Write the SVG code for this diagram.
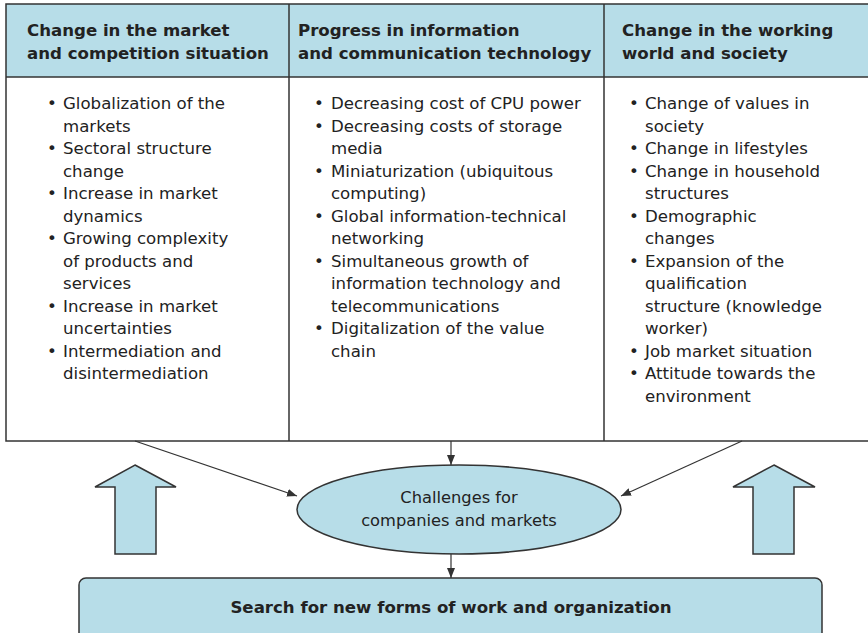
<svg xmlns="http://www.w3.org/2000/svg" width="868" height="633" viewBox="0 0 868 633">
<defs>
<style>
.hdr{fill:#b7dde8;stroke:none}
.ln{stroke:#333;stroke-width:1.5;fill:none}
.ht{font-family:"DejaVu Sans",Verdana,sans-serif;font-weight:bold;font-size:16.6px;fill:#222}
.bt{font-family:"DejaVu Sans",Verdana,sans-serif;font-size:16.6px;fill:#222}
.ct{font-family:"DejaVu Sans",Verdana,sans-serif;font-size:16.3px;fill:#222;text-anchor:middle}
.bb{font-family:"DejaVu Sans",Verdana,sans-serif;font-weight:bold;font-size:16.6px;fill:#222;text-anchor:middle}
.shape{fill:#b7dde8;stroke:#333;stroke-width:1.5}
.con{stroke:#333;stroke-width:1.2;fill:none}
</style>
<marker id="ah" viewBox="0 0 10 8" refX="10" refY="4" markerWidth="10" markerHeight="8" markerUnits="userSpaceOnUse" orient="auto">
<path d="M0,0 L10,4 L0,8 z" fill="#333"/>
</marker>
</defs>
<rect width="868" height="633" fill="#fff"/>
<g id="table">
<rect class="hdr" x="6" y="4" width="866" height="73"/>
<rect class="ln" x="6" y="4" width="866" height="437"/>
<line class="ln" x1="6" y1="77" x2="872" y2="77"/>
<line class="ln" x1="289" y1="4" x2="289" y2="441"/>
<line class="ln" x1="604" y1="4" x2="604" y2="441"/>
</g>
<g id="col1">
<text class="ht" x="27" y="36">Change in the market</text>
<text class="ht" x="27" y="58.5">and competition situation</text>
<g class="bt">
<text x="47" y="109">•</text><text x="63" y="109">Globalization of the</text>
<text x="63" y="131.5">markets</text>
<text x="47" y="154">•</text><text x="63" y="154">Sectoral structure</text>
<text x="63" y="176.5">change</text>
<text x="47" y="199">•</text><text x="63" y="199">Increase in market</text>
<text x="63" y="221.5">dynamics</text>
<text x="47" y="244">•</text><text x="63" y="244">Growing complexity</text>
<text x="63" y="266.5">of products and</text>
<text x="63" y="289">services</text>
<text x="47" y="311.5">•</text><text x="63" y="311.5">Increase in market</text>
<text x="63" y="334">uncertainties</text>
<text x="47" y="356.5">•</text><text x="63" y="356.5">Intermediation and</text>
<text x="63" y="379">disintermediation</text>
</g>
</g>
<g id="col2">
<text class="ht" x="298" y="36">Progress in information</text>
<text class="ht" x="298" y="58.5">and communication technology</text>
<g class="bt">
<text x="314" y="109">•</text><text x="331" y="109">Decreasing cost of CPU power</text>
<text x="314" y="131.5">•</text><text x="331" y="131.5">Decreasing costs of storage</text>
<text x="331" y="154">media</text>
<text x="314" y="176.5">•</text><text x="331" y="176.5">Miniaturization (ubiquitous</text>
<text x="331" y="199">computing)</text>
<text x="314" y="221.5">•</text><text x="331" y="221.5">Global information-technical</text>
<text x="331" y="244">networking</text>
<text x="314" y="266.5">•</text><text x="331" y="266.5">Simultaneous growth of</text>
<text x="331" y="289">information technology and</text>
<text x="331" y="311.5">telecommunications</text>
<text x="314" y="334">•</text><text x="331" y="334">Digitalization of the value</text>
<text x="331" y="356.5">chain</text>
</g>
</g>
<g id="col3">
<text class="ht" x="622" y="36">Change in the working</text>
<text class="ht" x="622" y="58.5">world and society</text>
<g class="bt">
<text x="629" y="109">•</text><text x="645" y="109">Change of values in</text>
<text x="645" y="131.5">society</text>
<text x="629" y="154">•</text><text x="645" y="154">Change in lifestyles</text>
<text x="629" y="176.5">•</text><text x="645" y="176.5">Change in household</text>
<text x="645" y="199">structures</text>
<text x="629" y="221.5">•</text><text x="645" y="221.5">Demographic</text>
<text x="645" y="244">changes</text>
<text x="629" y="266.5">•</text><text x="645" y="266.5">Expansion of the</text>
<text x="645" y="289">qualification</text>
<text x="645" y="311.5">structure (knowledge</text>
<text x="645" y="334">worker)</text>
<text x="629" y="356.5">•</text><text x="645" y="356.5">Job market situation</text>
<text x="629" y="379">•</text><text x="645" y="379">Attitude towards the</text>
<text x="645" y="401.5">environment</text>
</g>
</g>
<g id="arrow-left">
<polygon class="shape" points="135,465 176,487 156,487 156,554 115,554 115,487 95,487"/>
</g>
<g id="arrow-right">
<polygon class="shape" points="774,465 815,487 794,487 794,554 753,554 753,487 733,487"/>
</g>
<g id="challenges">
<ellipse class="shape" cx="459" cy="509.5" rx="162" ry="44.5"/>
<text class="ct" x="459" y="503">Challenges for</text>
<text class="ct" x="459" y="525.5">companies and markets</text>
</g>
<g id="search">
<rect class="shape" x="79" y="578" width="743" height="70" rx="7"/>
<text class="bb" x="451" y="613">Search for new forms of work and organization</text>
</g>
<g id="connectors">
<line class="con" x1="451" y1="441" x2="451" y2="465" marker-end="url(#ah)"/>
<line class="con" x1="135" y1="441" x2="297" y2="496" marker-end="url(#ah)"/>
<line class="con" x1="742" y1="441" x2="621" y2="496" marker-end="url(#ah)"/>
<line class="con" x1="451" y1="554" x2="451" y2="578" marker-end="url(#ah)"/>
</g>
</svg>
